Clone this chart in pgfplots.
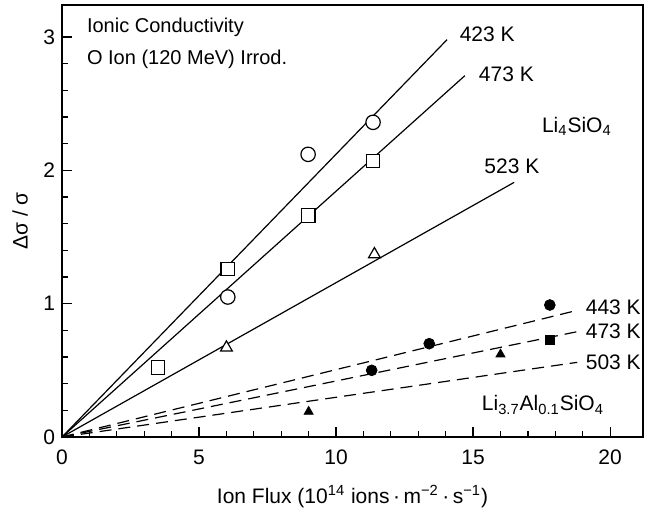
\documentclass[border=0pt]{standalone}
\usepackage{fontspec}
\setmainfont{Liberation Sans}
\usepackage{pgfplots}
\pgfplotsset{compat=1.18}

\begin{document}
\begin{tikzpicture}
\begin{axis}[
  scale only axis,
  width=290.5pt, height=216pt,
  xmin=0, xmax=21.2, ymin=0, ymax=3.24,
  xtick={0,5,10,15,20}, ytick={0,1,2,3},
  minor x tick num=4, minor y tick num=4,
  tick align=inside,
  xtick pos=bottom, ytick pos=left,
  major tick length=5pt, minor tick length=3pt,
  axis line style={line width=0.8pt},
  tick style={black, line width=0.6pt},
  /pgf/number format/assume math mode=true,
  ticklabel style={font=\fontsize{10.5}{12}\selectfont},
  xticklabel style={yshift=-3pt},
  xlabel={Ion Flux (10\textsuperscript{14} ions\,·\,m\textsuperscript{−2}\,·\,s\textsuperscript{−1})},
  ylabel={Δσ / σ},
  label style={font=\fontsize{10.5}{13}\selectfont},
  xlabel style={at={(rel axis cs:0.5,0)}, anchor=center, yshift=-30pt},
  ylabel style={at={(rel axis cs:0,0.5)}, anchor=center, yshift=21pt},
  clip=false,
]
\coordinate (sw) at (rel axis cs:0,0);
\coordinate (ne) at (rel axis cs:1,1);

% Li4SiO4 -- fitted lines (solid)
\addplot[black, line width=0.6pt] coordinates {(0,0) (14.05,2.98)};
\addplot[black, line width=0.6pt] coordinates {(0,0) (14.7,2.71)};
\addplot[black, line width=0.6pt] coordinates {(0,0) (16.5,1.91)};

% Li3.7Al0.1SiO4 -- fitted lines (dashed)
\addplot[black, line width=0.6pt, dash pattern=on 6pt off 3.5pt] coordinates {(0,0) (18.8,0.95)};
\addplot[black, line width=0.6pt, dash pattern=on 6pt off 3.5pt] coordinates {(0,0) (18.8,0.79)};
\addplot[black, line width=0.6pt, dash pattern=on 6pt off 3.5pt] coordinates {(0,0) (18.8,0.56)};

% Li4SiO4 measurements
\addplot[only marks, mark=*, mark size=3.6pt, mark options={draw=black, fill=white, line width=0.6pt}]
  coordinates {(6.05,1.05) (8.98,2.12) (11.35,2.36)};
\addplot[only marks, mark=square*, mark size=3.4pt, mark options={draw=black, fill=white, line width=0.6pt}]
  coordinates {(3.5,0.52) (6.05,1.26) (8.98,1.66) (11.35,2.07)};
\addplot[only marks, mark=triangle*, mark size=3.4pt, mark options={draw=black, fill=white, line width=0.6pt}]
  coordinates {(6.0,0.67) (11.4,1.37)};

% Li3.7Al0.1SiO4 measurements
\addplot[only marks, mark=*, mark size=2.7pt, black]
  coordinates {(11.3,0.50) (13.4,0.70) (17.8,0.99)};
\addplot[only marks, mark=square*, mark size=2.2pt, black]
  coordinates {(17.8,0.73)};
\addplot[only marks, mark=triangle*, mark size=2.6pt, black]
  coordinates {(9.0,0.19) (16.0,0.62)};

% annotations
\begin{scope}[every node/.style={inner sep=0pt, font=\fontsize{10.5}{12}\selectfont}]
\node[anchor=west, font=\fontsize{10}{12}\selectfont] at (axis cs:0.9,3.07) {Ionic Conductivity};
\node[anchor=west, font=\fontsize{10}{12}\selectfont] at (axis cs:0.9,2.83) {O Ion (120 MeV) Irrod.};
\node[anchor=west] at (axis cs:14.5,3.02) {423 K};
\node[anchor=west] at (axis cs:15.2,2.72) {473 K};
\node[anchor=west] at (axis cs:15.4,2.03) {523 K};
\node[anchor=west] at (axis cs:17.5,2.33) {Li\textsubscript{4}SiO\textsubscript{4}};
\node[anchor=west] at (axis cs:19.1,0.97) {443 K};
\node[anchor=west] at (axis cs:19.1,0.79) {473 K};
\node[anchor=west] at (axis cs:19.1,0.56) {503 K};
\node at (axis cs:17.55,0.24) {Li\textsubscript{3.7}Al\textsubscript{0.1}SiO\textsubscript{4}};
\end{scope}
\end{axis}
\pgfresetboundingbox
\path ([shift={(-31pt,-39.5pt)}]sw) rectangle ([shift={(13pt,2.5pt)}]ne);
\end{tikzpicture}
\end{document}
